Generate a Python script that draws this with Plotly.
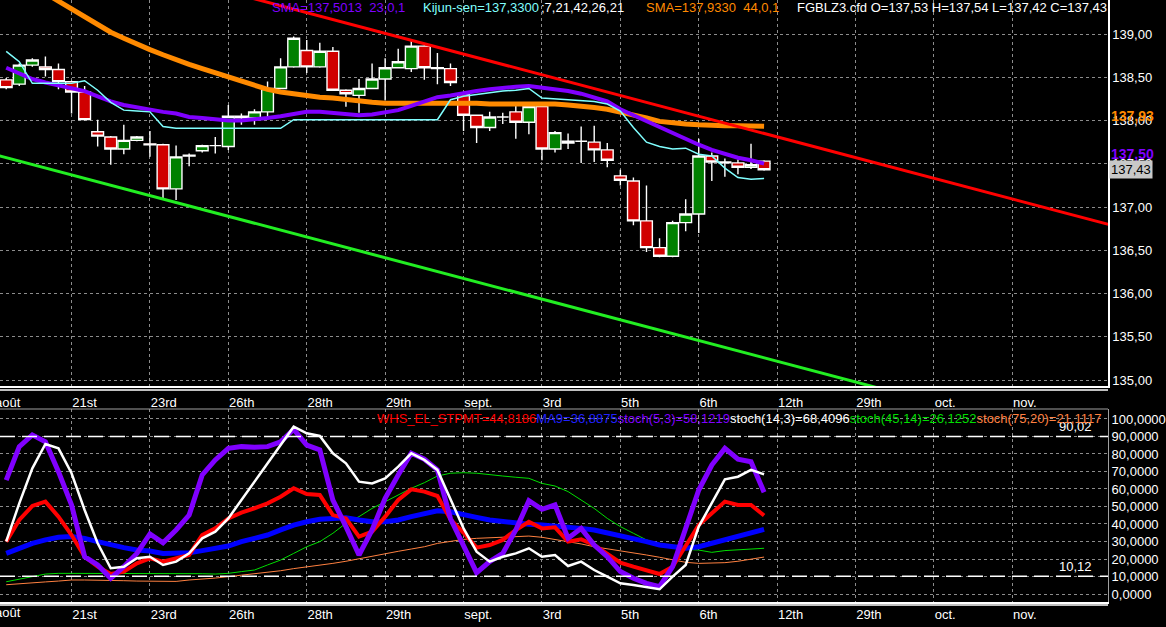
import plotly.graph_objects as go

# ---- price panel: one candle per bar ----
opens = [138.47, 138.42, 138.64, 138.62, 138.59, 138.45, 138.33, 137.87, 137.81, 137.67,
         137.77, 137.73, 137.72, 137.21, 137.59, 137.65, 137.71, 137.70, 138.05, 138.03,
         138.10, 138.37, 138.62, 138.81, 138.62, 138.80, 138.35, 138.29, 138.37, 138.48,
         138.61, 138.60, 138.86, 138.61, 138.60, 138.30, 138.06, 137.92, 138.04, 138.10,
         137.98, 138.16, 137.67, 137.74, 137.76, 137.75, 137.66, 137.36, 137.30, 136.84,
         136.53, 136.43, 136.82, 136.92, 137.59, 137.51, 137.51, 137.46, 137.53]
highs = [138.49, 138.66, 138.72, 138.74, 138.66, 138.46, 138.40, 138.01, 137.82, 137.95,
         137.82, 137.88, 137.73, 137.71, 137.62, 137.72, 137.81, 138.18, 138.08, 138.13,
         138.45, 138.72, 138.97, 138.93, 138.90, 138.85, 138.36, 138.48, 138.66, 138.72,
         138.83, 138.93, 138.87, 138.78, 138.66, 138.31, 138.07, 138.10, 138.09, 138.18,
         138.21, 138.17, 137.88, 137.85, 137.93, 137.94, 137.74, 137.43, 137.34, 137.25,
         136.64, 136.84, 137.09, 137.79, 137.63, 137.56, 137.55, 137.73, 137.54]
lows = [138.36, 138.40, 138.62, 138.51, 138.36, 138.08, 138.00, 137.70, 137.49, 137.61,
        137.76, 137.58, 137.10, 137.08, 137.47, 137.63, 137.62, 137.66, 137.95, 137.95,
        138.03, 138.36, 138.61, 138.55, 138.61, 138.34, 138.16, 138.09, 138.36, 138.23,
        138.60, 138.56, 138.47, 138.42, 138.40, 137.88, 137.74, 137.88, 137.96, 137.79,
        137.84, 137.54, 137.63, 137.67, 137.51, 137.52, 137.46, 137.25, 136.79, 136.48,
        136.42, 136.42, 136.72, 136.70, 137.30, 137.35, 137.38, 137.44, 137.42]
closes = [138.38, 138.64, 138.70, 138.59, 138.45, 138.33, 138.01, 137.82, 137.67, 137.77,
          137.81, 137.72, 137.21, 137.58, 137.60, 137.71, 137.71, 138.05, 138.03, 138.10,
          138.37, 138.62, 138.95, 138.62, 138.80, 138.35, 138.31, 138.37, 138.48, 138.61,
          138.68, 138.86, 138.61, 138.60, 138.44, 138.06, 137.92, 138.04, 138.04, 137.98,
          138.16, 137.67, 137.86, 137.76, 137.76, 137.66, 137.54, 137.31, 136.84, 136.53,
          136.43, 136.82, 136.92, 137.59, 137.52, 137.52, 137.46, 137.49, 137.43]

sma23 = [138.61, 138.55, 138.48, 138.44, 138.41, 138.38, 138.34, 138.28, 138.22, 138.18,
         138.15, 138.13, 138.10, 138.08, 138.04, 138.03, 138.01, 138.00, 138.00, 138.01,
         138.03, 138.05, 138.08, 138.10, 138.10, 138.09, 138.08, 138.06, 138.07, 138.09,
         138.12, 138.17, 138.22, 138.27, 138.29, 138.32, 138.34, 138.36, 138.38, 138.39,
         138.40, 138.38, 138.37, 138.34, 138.31, 138.27, 138.22, 138.13, 138.06, 138.00,
         137.93, 137.85, 137.78, 137.72, 137.66, 137.61, 137.57, 137.54, 137.5013]
sma44 = [139.74, 139.65, 139.56, 139.47, 139.38, 139.29, 139.20, 139.10, 139.02, 138.95,
         138.88, 138.82, 138.76, 138.70, 138.65, 138.60, 138.55, 138.50, 138.46, 138.41,
         138.36, 138.33, 138.31, 138.28, 138.27, 138.26, 138.24, 138.23, 138.21, 138.20,
         138.20, 138.20, 138.21, 138.21, 138.21, 138.20, 138.20, 138.19, 138.19, 138.19,
         138.20, 138.20, 138.19, 138.18, 138.17, 138.15, 138.13, 138.10, 138.06, 138.03,
         137.99, 137.97, 137.96, 137.95, 137.94, 137.94, 137.94, 137.94, 137.933]
kijun = [138.80, 138.68, 138.43, 138.43, 138.43, 138.43, 138.46, 138.35, 138.21, 138.12,
         138.11, 138.10, 137.93, 137.91, 137.91, 137.91, 137.91, 137.91, 137.91, 137.91,
         137.91, 137.91, 138.01, 138.01, 138.01, 138.01, 138.01, 138.01, 138.01, 138.01,
         138.01, 138.01, 138.01, 138.01, 138.24, 138.28, 138.30, 138.32, 138.34, 138.35,
         138.37, 138.26, 138.25, 138.24, 138.23, 138.22, 138.19, 138.11, 137.92, 137.75,
         137.70, 137.67, 137.68, 137.61, 137.59, 137.45, 137.34, 137.32, 137.33]

# trend channel anchors (bar index, price)
red_x = [15, 86]
red_y = [139.566, 136.733]
green_x = [-1, 70]
green_y = [137.611, 134.778]

# ---- oscillator panel ----
whs = [29.9, 42.3, 50.3, 52.8, 44.2, 33.7, 21.3, 15.6, 11.4, 12.8,
       17.5, 20.4, 18.5, 20.4, 22.3, 33.7, 37.5, 43.2, 46.5, 49.0,
       51.8, 55.6, 60.4, 57.1, 56.6, 45.1, 43.2, 32.8, 35.6, 44.2,
       53.7, 59.8, 58.5, 56.0, 42.7, 35.0, 26.5, 28.0, 30.9, 36.6,
       41.3, 37.5, 38.1, 29.9, 31.2, 28.0, 23.2, 17.9, 15.6, 13.3,
       11.4, 15.6, 27.0, 39.4, 46.1, 52.8, 50.9, 50.9, 44.8186]
ma9 = [23.2, 26.1, 28.9, 30.9, 32.4, 32.8, 31.8, 29.9, 28.0, 26.5,
       25.1, 24.6, 23.2, 23.2, 23.6, 24.8, 26.1, 27.4, 29.9, 31.8,
       33.7, 36.6, 39.4, 41.3, 42.7, 43.2, 43.6, 42.3, 41.3, 41.3,
       42.3, 44.2, 46.1, 47.6, 47.0, 45.7, 43.8, 42.3, 41.3, 40.4,
       39.8, 39.4, 38.9, 38.5, 37.5, 36.6, 35.0, 33.7, 31.8, 29.9,
       28.0, 26.7, 26.1, 27.0, 28.9, 31.2, 33.1, 35.0, 36.8875]
stoch_5_3 = [65.1, 84.2, 90.9, 87.0, 69.9, 50.9, 21.3, 16.6, 9.0, 15.6,
             23.2, 34.3, 29.3, 36.6, 45.1, 68.0, 76.6, 83.2, 84.2, 83.8,
             84.2, 87.0, 94.1, 85.1, 82.3, 53.7, 38.5, 22.3, 36.6, 54.7,
             68.0, 80.4, 77.0, 70.9, 43.0, 27.0, 12.2, 18.5, 23.2, 36.6,
             53.3, 48.4, 50.9, 31.8, 37.5, 28.0, 21.3, 12.8, 9.0, 6.1,
             4.2, 15.6, 36.6, 59.4, 73.7, 83.2, 77.0, 75.6, 58.1219]
stoch_14_3 = [30.0, 51.8, 71.8, 85.7, 83.2, 69.0, 48.0, 29.0, 14.7, 15.6,
              20.4, 21.3, 16.6, 18.5, 23.2, 31.8, 35.6, 43.2, 53.7, 64.2,
              74.7, 85.1, 95.6, 91.8, 90.3, 80.4, 74.7, 64.2, 63.2, 66.1,
              72.8, 80.4, 76.6, 70.9, 53.7, 37.5, 24.2, 18.5, 21.3, 23.2,
              26.1, 21.3, 22.3, 16.0, 18.5, 13.7, 9.9, 6.1, 5.1, 3.8,
              2.7, 9.9, 16.6, 38.5, 51.8, 65.5, 67.0, 70.9, 68.4096]
stoch_45_14 = [7.0, 8.4, 9.9, 11.4, 11.8, 11.8, 11.8, 11.8, 11.8, 11.8,
               12.0, 12.0, 11.8, 11.8, 11.6, 11.6, 11.4, 11.8, 12.8, 13.7,
               16.6, 19.4, 23.2, 27.0, 29.9, 34.7, 40.4, 44.2, 48.9, 52.8,
               56.6, 60.4, 63.6, 67.4, 69.0, 69.3, 69.0, 68.4, 67.4, 66.7,
               66.1, 63.2, 61.7, 58.5, 53.7, 48.9, 43.2, 38.5, 34.7, 30.9,
               28.6, 27.0, 25.5, 25.1, 23.8, 24.8, 25.1, 25.5, 26.1252]
stoch_75_20 = [5.3, 5.7, 6.3, 6.9, 7.4, 8.0, 8.0, 8.0, 7.8, 7.6,
               7.4, 7.2, 7.0, 7.2, 8.0, 8.4, 9.1, 9.9, 10.7, 11.4,
               12.2, 13.3, 14.5, 15.4, 16.4, 17.5, 18.7, 20.2, 21.7, 23.2,
               24.4, 25.7, 27.0, 28.9, 30.1, 31.2, 31.8, 32.2, 32.4, 32.8,
               33.1, 32.4, 31.2, 29.9, 28.6, 27.0, 25.9, 24.8, 23.6, 22.3,
               21.0, 19.4, 18.1, 17.5, 17.5, 17.9, 18.7, 19.8, 21.1117]
levels = [90.02, 10.12]

# time axis labels (bar index)
tick_idx = [-1, 5, 11, 17, 23, 29, 35, 41, 47, 53, 59, 65, 71, 77]
tick_text = ["août", "21st", "23rd", "26th", "28th", "29th", "sept.", "3rd",
             "5th", "6th", "12th", "29th", "oct.", "nov."]

FONT = "Liberation Sans, Arial, sans-serif"
GRID = "#8c8c8c"
PURPLE = "#8000ff"
ORANGE = "#ff8a00"
CYAN = "#80ffff"

# layout geometry in pixels
PW, PH = 1115, 602
TOP_BOTTOM_PX = 386
LOW_TOP_PX = 409
XR = [-0.475, 84.32]


def fx(px):
    return px / PW


def fy(py):
    return 1 - py / PH


def num(v, d):
    return f"{v:.{d}f}".replace(".", ",")


bars = list(range(len(closes)))

fig = go.Figure()

fig.add_trace(go.Candlestick(
    x=bars, open=opens, high=highs, low=lows, close=closes,
    increasing=dict(fillcolor="#008000", line=dict(color="white", width=1.4)),
    decreasing=dict(fillcolor="#d00000", line=dict(color="white", width=1.4)),
    xaxis="x", yaxis="y", hoverinfo="skip"))
fig.add_trace(go.Scatter(x=bars, y=sma44, mode="lines",
                         line=dict(color=ORANGE, width=5), xaxis="x", yaxis="y"))
fig.add_trace(go.Scatter(x=bars, y=sma23, mode="lines",
                         line=dict(color=PURPLE, width=4), xaxis="x", yaxis="y"))
fig.add_trace(go.Scatter(x=bars, y=kijun, mode="lines",
                         line=dict(color=CYAN, width=1.5), xaxis="x", yaxis="y"))
fig.add_trace(go.Scatter(x=red_x, y=red_y, mode="lines",
                         line=dict(color="#ff0000", width=3), xaxis="x", yaxis="y"))
fig.add_trace(go.Scatter(x=green_x, y=green_y, mode="lines",
                         line=dict(color="#22ee22", width=3), xaxis="x", yaxis="y"))

osc = [
    (stoch_75_20, "#ff8040", 1),
    (stoch_45_14, "#00dd00", 1),
    (ma9, "#0000ff", 5),
    (whs, "#ff0000", 4),
    (stoch_5_3, PURPLE, 5),
    (stoch_14_3, "white", 2.5),
]
for vals, col, w in osc:
    fig.add_trace(go.Scatter(x=bars, y=vals, mode="lines",
                             line=dict(color=col, width=w), xaxis="x2", yaxis="y2"))

axis_font = dict(family=FONT, size=13, color="white")
xcommon = dict(range=XR, tickvals=tick_idx, ticktext=tick_text, showgrid=True,
               gridcolor=GRID, gridwidth=1, griddash="3px,3px", zeroline=False,
               ticks="", ticklabelposition="outside right", tickfont=axis_font,
               showline=True, linecolor="white", linewidth=1.5)

fig.update_layout(
    width=1166, height=627,
    margin=dict(l=0, r=1166 - PW, t=0, b=627 - PH),
    paper_bgcolor="black", plot_bgcolor="black",
    showlegend=False, separators=", ", boxgap=0.1, boxgroupgap=0,
    font=axis_font, hovermode=False,
    xaxis=dict(domain=[0, 1], anchor="y", rangeslider=dict(visible=False),
               ticklabelstandoff=4, **xcommon),
    yaxis=dict(domain=[fy(TOP_BOTTOM_PX), 1], anchor="x", side="right",
               range=[134.931, 139.393], tick0=135, dtick=0.5, tickformat=".2f",
               showgrid=True, gridcolor=GRID, griddash="3px,3px", zeroline=False,
               ticks="", tickfont=axis_font, showline=True, linecolor="white",
               linewidth=1.5),
    xaxis2=dict(domain=[0, 1], anchor="y2", ticklabelstandoff=0, **xcommon),
    yaxis2=dict(domain=[0, fy(LOW_TOP_PX)], anchor="x2", side="right",
                range=[-4.57, 105.7], tick0=0, dtick=10, tickformat=".4f",
                showgrid=True, gridcolor=GRID, griddash="3px,3px", zeroline=False,
                ticks="", tickfont=axis_font, showline=True, linecolor="#a0a0a0",
                linewidth=1),
)

# second white rule under each panel, top border of the oscillator panel
fig.add_shape(type="line", xref="x domain", yref="y domain", x0=0, x1=1,
              ysizemode="pixel", yanchor=0, y0=-4, y1=-4,
              line=dict(color="white", width=1.5))
fig.add_shape(type="line", xref="x2 domain", yref="y2 domain", x0=0, x1=1,
              ysizemode="pixel", yanchor=0, y0=-3, y1=-3,
              line=dict(color="white", width=1.5))
fig.add_shape(type="line", xref="x2 domain", yref="y2 domain", x0=0, x1=1,
              y0=1, y1=1, line=dict(color="#a0a0a0", width=1))

for lv in levels:
    fig.add_shape(type="line", xref="x2 domain", yref="y2", x0=0, x1=1,
                  y0=lv, y1=lv, line=dict(color="white", width=1.5, dash="15px,7px"))
    fig.add_annotation(xref="paper", yref="y2", x=fx(1101), y=lv, text=num(lv, 2),
                       xanchor="right", yanchor="bottom", showarrow=False,
                       font=axis_font)

# cut-off first date label
for ypx in (402, 612):
    fig.add_annotation(xref="paper", yref="paper",
                       x=(tick_idx[0] - XR[0]) / (XR[1] - XR[0]), y=fy(ypx),
                       text=tick_text[0], xanchor="left", yanchor="middle",
                       showarrow=False, font=axis_font)

# header of price panel
header = [
    (272, f"SMA={num(sma23[-1], 4)}  23,0,1", PURPLE),
    (424, f"Kijun-sen={num(kijun[-1], 4)}", CYAN),
    (542, ";7,21,42,26,21", "white"),
    (648, f"SMA={num(sma44[-1], 4)}  44,0,1", ORANGE),
    (800, f"FGBLZ3.cfd O={num(opens[-1], 2)} H={num(highs[-1], 2)} "
          f"L={num(lows[-1], 2)} C={num(closes[-1], 2)}", "white"),
]
for xp, txt, col in header:
    fig.add_annotation(xref="paper", yref="paper", x=fx(xp), y=fy(8), text=txt,
                       xanchor="left", yanchor="middle", showarrow=False,
                       font=dict(family=FONT, size=13, color=col))

# header of oscillator panel, one run of coloured pieces
osc_header = [
    (f"WHS_EL_STPMT={num(whs[-1], 4)}", "#ff0000"),
    (f"MA9={num(ma9[-1], 4)}", "#2020ff"),
    (f"stoch(5,3)={num(stoch_5_3[-1], 4)}", PURPLE),
    (f"stoch(14,3)={num(stoch_14_3[-1], 4)}", "white"),
    (f"stoch(45,14)={num(stoch_45_14[-1], 4)}", "#00dd00"),
    (f"stoch(75,20)={num(stoch_75_20[-1], 4)}", "#ff8040"),
]
osc_text = "".join(f'<span style="color:{c}">{t}</span>' for t, c in osc_header)
fig.add_annotation(xref="paper", yref="paper", x=fx(1110), y=fy(418), text=osc_text,
                   xanchor="right", yanchor="middle", showarrow=False,
                   font=dict(family=FONT, size=13, color="white"))

# last-value markers on the price scale
fig.add_annotation(xref="paper", yref="y", x=1, y=sma44[-1], xshift=1,
                   text=f"<b>{num(sma44[-1], 2)}</b>", xanchor="left", yanchor="bottom",
                   showarrow=False, font=dict(family=FONT, size=14, color=ORANGE))
fig.add_annotation(xref="paper", yref="y", x=1, y=sma23[-1], xshift=1,
                   text=f"<b>{num(sma23[-1], 2)}</b>", xanchor="left", yanchor="bottom",
                   showarrow=False, font=dict(family=FONT, size=14, color=PURPLE))
fig.add_annotation(xref="paper", yref="y", x=1, y=closes[-1], xshift=1,
                   text=num(closes[-1], 2), xanchor="left", yanchor="middle",
                   showarrow=False, bgcolor="#c8c8c8", borderpad=1,
                   font=dict(family=FONT, size=13, color="black"))

# the page body has a default margin; drop it so the figure sits at the corner
fig.write_html("out.html", config={"displayModeBar": False},
               post_script="document.body.style.margin='0';")
